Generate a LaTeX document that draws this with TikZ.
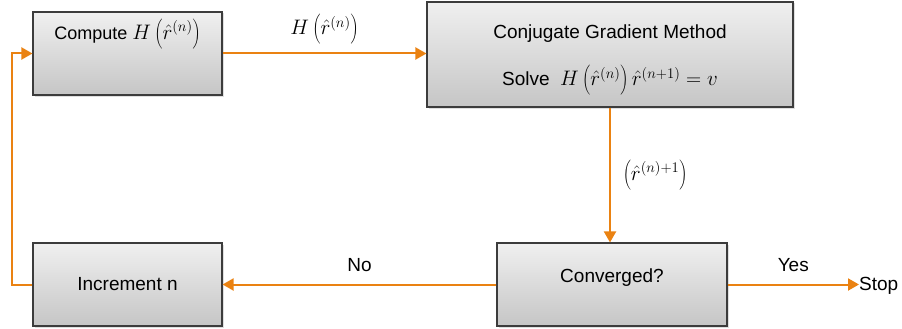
\RequirePackage{fix-cm}
\documentclass[tikz,border=0pt]{standalone}
\usepackage{fontspec}
\setmainfont{Liberation Sans}
\usetikzlibrary{arrows.meta,shadows}
\definecolor{flow}{RGB}{234,130,18}
\definecolor{boxline}{RGB}{60,60,60}
\newcommand\bigmath[1]{{\fontsize{21}{25}\selectfont$#1$}}
\tikzset{
  procbox/.style={rectangle, draw=boxline, line width=1.1pt,
    top color=gray!12, bottom color=gray!45,
    drop shadow={shadow xshift=1.5pt, shadow yshift=-1.5pt, opacity=0.25},
    font=\fontsize{19}{23}\selectfont, align=center, inner sep=0pt},
  flowline/.style={draw=flow, line width=2pt, -{Triangle[length=11pt,width=12pt]}},
  lbl/.style={font=\fontsize{19}{23}\selectfont, inner sep=0pt}
}
\begin{document}
\begin{tikzpicture}[x=1pt,y=-1pt]
\useasboundingbox (0,0) rectangle (902,329);
\node[procbox, minimum width=189pt, minimum height=83pt, text height=18pt, text depth=46pt] (comp) at (127.5,53.5)
  {\fontsize{18}{22}\selectfont Compute \bigmath{H\left(\hat r^{(n)}\right)}};
\node[procbox, minimum width=366pt, minimum height=105pt] (cg) at (610,54.5)
  {\rule{0pt}{25pt}Conjugate Gradient Method\\[22pt] Solve\ \ \bigmath{H\left(\hat r^{(n)}\right)\hat r^{(n+1)} = v}};
\node[procbox, minimum width=230pt, minimum height=83pt, text height=14pt, text depth=19pt] (conv) at (612,284.5) {Converged?};
\node[procbox, minimum width=189pt, minimum height=83pt] (inc) at (127.5,284.5) {Increment n};
\node[lbl, anchor=west] (stop) at (859,286) {Stop};
\coordinate (loop) at (12,284.5);
\draw[flowline] (comp.east) -- (comp.east -| cg.west)
  node[lbl, midway, above=8pt] (l1) {\bigmath{H\left(\hat r^{(n)}\right)}};
\draw[flowline] (cg.south) -- (cg.south |- conv.north)
  node[lbl, midway, right=12pt] (l2) {\bigmath{\left(\hat r^{(n)+1}\right)}};
\draw[flowline] (conv.west) -- (inc.east)
  node[lbl, midway, above=12pt] (l3) {No};
\draw[flowline] (conv.east) -- (conv.east -| stop.west)
  node[lbl, midway, above=12pt] (l4) {Yes};
\draw[flowline] (inc.west) -- (loop) |- (comp.west);
\end{tikzpicture}
\end{document}
